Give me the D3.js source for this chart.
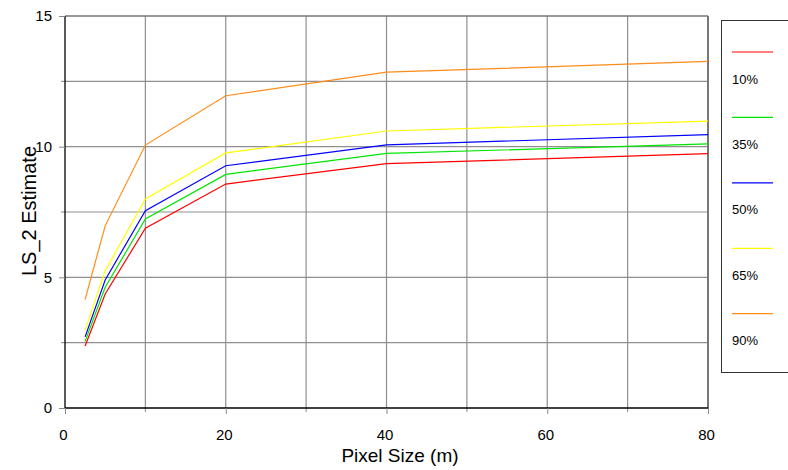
<!DOCTYPE html>
<html><head><meta charset="utf-8">
<script src="https://cdn.jsdelivr.net/npm/d3@7"></script>
<style>
html,body{margin:0;padding:0;background:#fff;}
svg{display:block;font-family:"Liberation Sans",Arial,sans-serif;}
</style></head>
<body>
<svg id="chart" width="788" height="470"></svg>
<script>
const pixelSizes = [2.5, 5, 10, 20, 40, 80];
const seriesNames = ["10%", "35%", "50%", "65%", "90%"];
const seriesColors = ["#ff0000", "#00e600", "#0000ff", "#ffff00", "#ff8c1a"];
const s10 = [2.37, 4.36, 6.88, 8.57, 9.35, 9.73];
const s35 = [2.55, 4.62, 7.23, 8.94, 9.74, 10.11];
const s50 = [2.72, 4.90, 7.55, 9.27, 10.07, 10.46];
const s65 = [2.97, 5.25, 8.00, 9.76, 10.60, 10.98];
const s90 = [4.15, 6.97, 10.06, 11.95, 12.85, 13.26];
const xTickLabels = [0, 20, 40, 60, 80];
const yTickLabels = [0, 5, 10, 15];
const seriesValues = [s10, s35, s50, s65, s90];

const svg = d3.select("#chart");
const L = 65, R = 708, T = 16, B = 408;
const x = d3.scaleLinear().domain([0, 80]).range([L, R]);
const y = d3.scaleLinear().domain([0, 15]).range([B, T]);

// gridlines
const g = svg.append("g");
d3.range(10, 80, 10).forEach(v => {
  g.append("line").attr("x1", x(v)).attr("x2", x(v)).attr("y1", T).attr("y2", B)
   .attr("stroke", "#8f8f8f").attr("stroke-width", 1.2);
});
d3.range(2.5, 15, 2.5).forEach(v => {
  g.append("line").attr("x1", L).attr("x2", R).attr("y1", y(v)).attr("y2", y(v))
   .attr("stroke", "#8f8f8f").attr("stroke-width", 1.2);
});
// frame top & right
g.append("line").attr("x1", L).attr("x2", R).attr("y1", T).attr("y2", T).attr("stroke", "#777").attr("stroke-width", 1.3);
g.append("line").attr("x1", R).attr("x2", R).attr("y1", T).attr("y2", B).attr("stroke", "#777").attr("stroke-width", 2);

// minor ticks
d3.range(2.5, 15, 5).forEach(v => {
  svg.append("line").attr("x1", L - 4).attr("x2", L).attr("y1", y(v)).attr("y2", y(v)).attr("stroke", "#888");
});
d3.range(10, 80, 20).forEach(v => {
  svg.append("line").attr("x1", x(v)).attr("x2", x(v)).attr("y1", B).attr("y2", B + 4).attr("stroke", "#888");
});

// axes
const yAxis = d3.axisLeft(y).tickValues(yTickLabels).tickSize(6).tickPadding(7).tickFormat(d3.format("d"));
const xAxis = d3.axisBottom(x).tickValues(xTickLabels).tickSize(6).tickPadding(15).tickFormat(d3.format("d"));
const ya = svg.append("g").attr("transform", `translate(${L},0)`).call(yAxis);
const xa = svg.append("g").attr("transform", `translate(0,${B})`).call(xAxis);
[ya, xa].forEach(a => {
  a.select(".domain").attr("stroke", "#000").attr("stroke-width", 1.3);
  a.selectAll(".tick line").attr("stroke", "#888");
  a.selectAll(".tick text").attr("font-size", 15).attr("fill", "#000").attr("font-family", "Liberation Sans, Arial, sans-serif");
});
xa.selectAll(".tick text").attr("dx", -2);
ya.select(".domain").attr("d", `M0,${B}V${T}`);
xa.select(".domain").attr("d", `M${L},0H${R}`);

// lines
const line = d3.line().x((d, i) => x(pixelSizes[i])).y(d => y(d));
seriesValues.forEach((vals, k) => {
  svg.append("path").datum(vals).attr("d", line).attr("fill", "none")
     .attr("stroke", seriesColors[k]).attr("stroke-width", 1.2);
});

// axis titles
svg.append("text").attr("x", 400).attr("y", 462).attr("text-anchor", "middle")
   .attr("font-size", 19).attr("fill", "#000").text("Pixel Size (m)");
svg.append("text").attr("transform", "translate(36,211) rotate(-90)").attr("text-anchor", "middle")
   .attr("font-size", 20).attr("fill", "#000").text("LS_2 Estimate");

// legend
const lg = svg.append("g");
lg.append("rect").attr("x", 721.5).attr("y", 20.5).attr("width", 80).attr("height", 352)
  .attr("fill", "#fff").attr("stroke", "#333").attr("stroke-width", 1);
const ly = d3.scalePoint().domain(seriesNames).range([52, 313.7]);
seriesNames.forEach((n, k) => {
  lg.append("line").attr("x1", 732).attr("x2", 773).attr("y1", ly(n)).attr("y2", ly(n))
    .attr("stroke", seriesColors[k]).attr("stroke-width", 1.2);
  lg.append("text").attr("x", 732).attr("y", ly(n) + 31.5).attr("font-size", 13).attr("fill", "#000").text(n);
});
</script>
</body></html>
